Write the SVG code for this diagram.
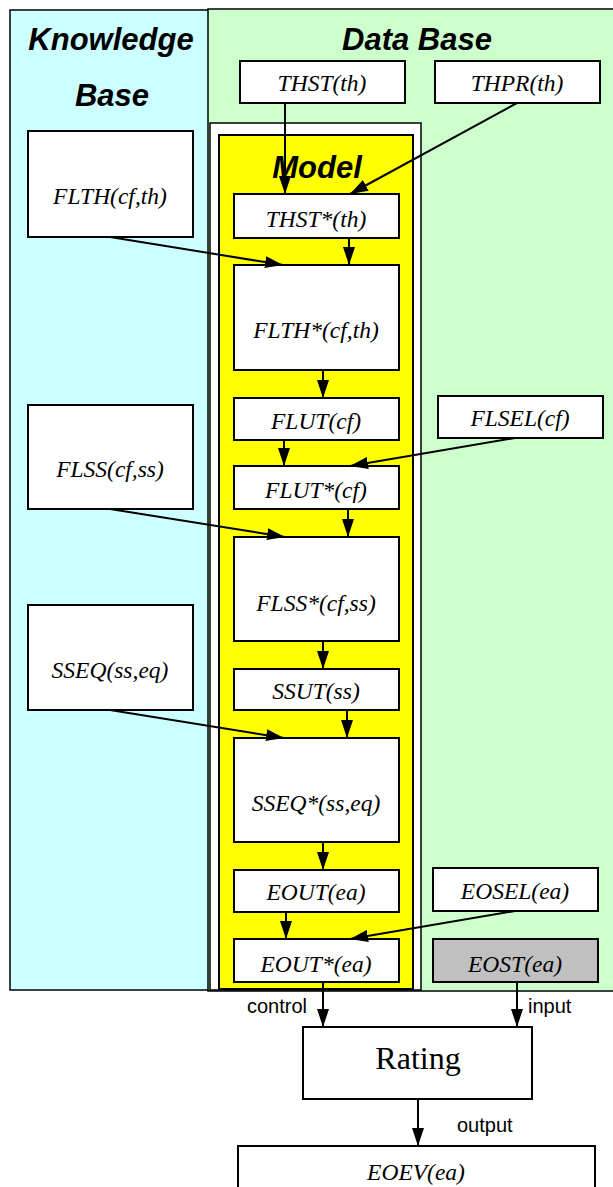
<svg xmlns="http://www.w3.org/2000/svg" width="613" height="1187" viewBox="0 0 613 1187">
<style>
.box{fill:#fff;stroke:#000;stroke-width:2}
.gray{fill:#c0c0c0;stroke:#000;stroke-width:2}
.t{font-family:"Liberation Serif","Times New Roman",serif;font-style:italic;font-size:23.5px;text-anchor:middle;fill:#000}
.h{font-family:"Liberation Sans",Arial,sans-serif;font-style:italic;font-weight:bold;font-size:31px;text-anchor:middle;fill:#000}
.l{font-family:"Liberation Sans",Arial,sans-serif;font-size:20px;fill:#000}
.c line{stroke:#000;stroke-width:2;marker-end:url(#ah)}
</style>
<defs>
<marker id="ah" markerUnits="userSpaceOnUse" markerWidth="18" markerHeight="12" viewBox="0 0 18 12" refX="18" refY="6" orient="auto">
<path d="M0,0 L18,6 L0,12 Z" fill="#000"/>
</marker>
</defs>
<rect width="613" height="1187" fill="#fff"/>
<g id="panel-kb">
<rect x="10" y="10" width="199" height="980" fill="#ccffff" stroke="#000" stroke-width="1.5"/>
<text class="h" x="111" y="50">Knowledge</text>
<text class="h" x="112" y="106">Base</text>
</g>
<g id="panel-db">
<rect x="208" y="9" width="410" height="982" fill="#ccffcc" stroke="#000" stroke-width="1.5"/>
<text class="h" x="417" y="50">Data Base</text>
</g>
<g id="panel-model">
<rect x="210" y="123" width="211" height="867" fill="#fff" stroke="#000" stroke-width="1.5"/>
<rect x="219" y="135" width="194" height="854" fill="#ffff00" stroke="#000" stroke-width="2"/>
<text class="h" x="317" y="178">Model</text>
</g>
<g id="n-thst"><rect class="box" x="240" y="61" width="165" height="42"/><text class="t" x="322" y="91">THST(th)</text></g>
<g id="n-thpr"><rect class="box" x="435" y="61" width="165" height="42"/><text class="t" x="517" y="91">THPR(th)</text></g>
<g id="n-flth"><rect class="box" x="28" y="131" width="165" height="106"/><text class="t" x="110" y="204">FLTH(cf,th)</text></g>
<g id="n-thst-s"><rect class="box" x="234" y="194" width="165" height="44"/><text class="t" x="316" y="227">THST*(th)</text></g>
<g id="n-flth-s"><rect class="box" x="234" y="265" width="165" height="105"/><text class="t" x="316" y="338">FLTH*(cf,th)</text></g>
<g id="n-flut"><rect class="box" x="234" y="398" width="165" height="42"/><text class="t" x="316" y="429">FLUT(cf)</text></g>
<g id="n-flsel"><rect class="box" x="438" y="396" width="165" height="42"/><text class="t" x="520" y="426">FLSEL(cf)</text></g>
<g id="n-flss"><rect class="box" x="28" y="405" width="165" height="104"/><text class="t" x="110" y="477">FLSS(cf,ss)</text></g>
<g id="n-flut-s"><rect class="box" x="234" y="466" width="165" height="43"/><text class="t" x="316" y="498">FLUT*(cf)</text></g>
<g id="n-flss-s"><rect class="box" x="234" y="537" width="165" height="104"/><text class="t" x="316" y="611">FLSS*(cf,ss)</text></g>
<g id="n-sseq"><rect class="box" x="28" y="605" width="165" height="105"/><text class="t" x="110" y="678">SSEQ(ss,eq)</text></g>
<g id="n-ssut"><rect class="box" x="234" y="669" width="165" height="41"/><text class="t" x="316" y="699">SSUT(ss)</text></g>
<g id="n-sseq-s"><rect class="box" x="234" y="738" width="165" height="104"/><text class="t" x="316" y="811">SSEQ*(ss,eq)</text></g>
<g id="n-eout"><rect class="box" x="234" y="870" width="165" height="42"/><text class="t" x="316" y="900">EOUT(ea)</text></g>
<g id="n-eosel"><rect class="box" x="433" y="868" width="165" height="43"/><text class="t" x="515" y="899">EOSEL(ea)</text></g>
<g id="n-eout-s"><rect class="box" x="234" y="939" width="165" height="43"/><text class="t" x="316" y="972">EOUT*(ea)</text></g>
<g id="n-eost"><rect class="gray" x="433" y="939" width="165" height="43"/><text class="t" x="515" y="972">EOST(ea)</text></g>
<g id="n-rating"><rect class="box" x="303" y="1027" width="229" height="72"/><text x="418" y="1069" style="font-family:'Liberation Serif','Times New Roman',serif;font-size:32px;text-anchor:middle">Rating</text></g>
<g id="n-eoev"><rect class="box" x="238" y="1146" width="357" height="60"/><text class="t" x="416" y="1180">EOEV(ea)</text></g>
<g id="connectors" class="c">
<line x1="285" y1="103" x2="285" y2="194"/>
<line x1="517" y1="103" x2="350" y2="194"/>
<line x1="349" y1="238" x2="349" y2="265"/>
<line x1="110" y1="237" x2="283" y2="265"/>
<line x1="323" y1="370" x2="323" y2="398"/>
<line x1="284" y1="440" x2="284" y2="466"/>
<line x1="515" y1="438" x2="350" y2="466"/>
<line x1="348" y1="509" x2="348" y2="537"/>
<line x1="110" y1="509" x2="285" y2="537"/>
<line x1="323" y1="641" x2="323" y2="669"/>
<line x1="347" y1="710" x2="347" y2="738"/>
<line x1="110" y1="710" x2="284" y2="738"/>
<line x1="323" y1="842" x2="323" y2="870"/>
<line x1="286" y1="912" x2="286" y2="939"/>
<line x1="515" y1="911" x2="350" y2="939"/>
<line x1="323" y1="982" x2="323" y2="1027"/>
<line x1="517" y1="982" x2="517" y2="1027"/>
<line x1="418" y1="1099" x2="418" y2="1146"/>
</g>
<g id="labels">
<text class="l" x="247" y="1013">control</text>
<text class="l" x="528" y="1013">input</text>
<text class="l" x="457" y="1132">output</text>
</g>
</svg>
